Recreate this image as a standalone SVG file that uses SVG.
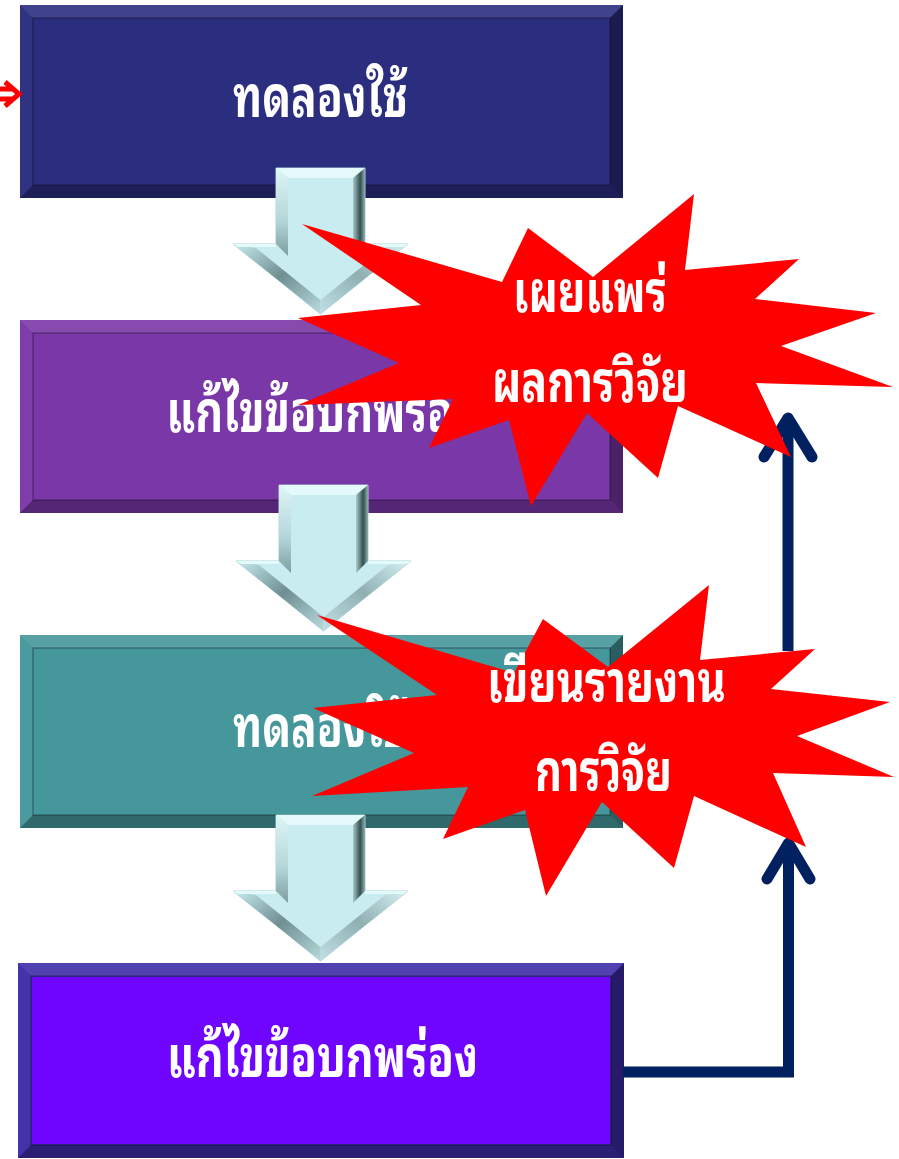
<svg xmlns="http://www.w3.org/2000/svg" width="899" height="1159" viewBox="0 0 899 1159">
<style>
.bt{fill:#FFFFFF;opacity:0.1}
.bl{fill:#FFFFFF;opacity:0.03}
.br{fill:#000000;opacity:0.38}
.bb{fill:#000000;opacity:0.3}
.il{fill:none;stroke:#000000;stroke-opacity:0.22;stroke-width:2}
.lbl{font-family:"Noto Sans Thai Looped","Noto Sans Thai","Noto Sans","DejaVu Sans",sans-serif;font-weight:bold;font-size:58px;fill:#FFFFFF;text-anchor:middle}
.conn{fill:none;stroke:#002060;stroke-width:11}
.star{fill:#FF0000}
</style>
<defs>
<linearGradient id="gL" x1="0" y1="0" x2="0" y2="1">
<stop offset="0" stop-color="#DDF5F6"/><stop offset="0.6" stop-color="#B5D6D8"/><stop offset="1" stop-color="#7C9EA1"/>
</linearGradient>
<linearGradient id="gR" x1="0" y1="0" x2="1" y2="0">
<stop offset="0" stop-color="#A9C9CC"/><stop offset="0.6" stop-color="#34504F"/><stop offset="1" stop-color="#8FB0B3"/>
</linearGradient>
<linearGradient id="gHL" x1="0" y1="0" x2="1" y2="1">
<stop offset="0" stop-color="#C8ECEF"/><stop offset="0.5" stop-color="#6F8F92"/><stop offset="1" stop-color="#B8DADD"/>
</linearGradient>
<linearGradient id="gHR" x1="1" y1="0" x2="0" y2="1">
<stop offset="0" stop-color="#D5F1F3"/><stop offset="0.5" stop-color="#8FAFB2"/><stop offset="1" stop-color="#C0E0E3"/>
</linearGradient>
<g id="darrow">
<polygon points="0,0 89,0 89,76 132,76 44.5,146 -43,76 0,76" fill="#C8ECEF" stroke="#A9D2D6" stroke-width="1"/>
<polygon points="0,0 89,0 77,10 12,10" fill="#E4F9FA"/>
<polygon points="0,0 12,10 12,88 0,76" fill="url(#gL)"/>
<polygon points="89,0 89,76 77,88 77,10" fill="url(#gR)"/>
<polygon points="-43,76 -20,80 44.5,132 44.5,146" fill="url(#gHL)"/>
<polygon points="132,76 109,80 44.5,132 44.5,146" fill="url(#gHR)"/>
<polygon points="-43,76 0,76 0,79 -38,79" fill="#E4F9FA"/>
<polygon points="89,76 132,76 127,79 89,79" fill="#E4F9FA"/>
</g>
</defs>
<rect width="899" height="1159" fill="#FFFFFF"/>

<g id="node1">
<rect x="20" y="5" width="603" height="193" fill="#2B2D7E"/>
<polygon class="bt" points="20,5 623,5 610,18 33,18"/>
<polygon class="bl" points="20,5 33,18 33,185 20,198"/>
<polygon class="br" points="623,5 623,198 610,185 610,18"/>
<polygon class="bb" points="20,198 623,198 610,185 33,185"/>
<rect class="il" x="33" y="18" width="577" height="167"/>
<rect x="34" y="19" width="575" height="165" fill="#2B2D7E"/>
<text class="lbl" x="320.5" y="117" textLength="175" lengthAdjust="spacingAndGlyphs">ทดลองใช้</text>
</g>

<g id="node2">
<rect x="20" y="320" width="603" height="193" fill="#7A37A8"/>
<polygon class="bt" points="20,320 623,320 610,333 33,333"/>
<polygon class="bl" points="20,320 33,333 33,500 20,513"/>
<polygon class="br" points="623,320 623,513 610,500 610,333"/>
<polygon class="bb" points="20,513 623,513 610,500 33,500"/>
<rect class="il" x="33" y="333" width="577" height="167"/>
<rect x="34" y="334" width="575" height="165" fill="#7A37A8"/>
<text class="lbl" x="322" y="432" textLength="311" lengthAdjust="spacingAndGlyphs">แก้ไขข้อบกพร่อง</text>
</g>

<g id="node3">
<rect x="20" y="635" width="603" height="193" fill="#45979B"/>
<polygon class="bt" points="20,635 623,635 610,648 33,648"/>
<polygon class="bl" points="20,635 33,648 33,815 20,828"/>
<polygon class="br" points="623,635 623,828 610,815 610,648"/>
<polygon class="bb" points="20,828 623,828 610,815 33,815"/>
<rect class="il" x="33" y="648" width="577" height="167"/>
<rect x="34" y="649" width="575" height="165" fill="#45979B"/>
<text class="lbl" x="320.5" y="747" textLength="175" lengthAdjust="spacingAndGlyphs">ทดลองใช้</text>
</g>

<g id="node4">
<rect x="18" y="963" width="606" height="195" fill="#3D2CA8"/>
<polygon class="bt" points="18,963 624,963 611,976 31,976"/>
<polygon class="bl" points="18,963 31,976 31,1145 18,1158"/>
<polygon class="br" points="624,963 624,1158 611,1145 611,976"/>
<polygon class="bb" points="18,1158 624,1158 611,1145 31,1145"/>
<rect class="il" x="31" y="976" width="580" height="169"/>
<rect x="32" y="977" width="578" height="167" fill="#6F05FF"/>
<text class="lbl" x="322.5" y="1077" textLength="311" lengthAdjust="spacingAndGlyphs">แก้ไขข้อบกพร่อง</text>
</g>

<g id="arrows">
<use href="#darrow" transform="translate(276,168)"/>
<use href="#darrow" transform="translate(279,485)"/>
<use href="#darrow" transform="translate(276,815)"/>
</g>

<g id="connectors">
<path d="M0,89 H13 M0,99 H13 M5,82 L19,94 L5,106" fill="none" stroke="#FF0000" stroke-width="5"/>
<path class="conn" d="M623,1072 H794"/>
<path class="conn" d="M788.5,1077 V846"/>
<path class="conn" d="M767,879 L788.5,843 L810,879" stroke-linecap="round" stroke-linejoin="round"/>
<path class="conn" d="M788,651 V424"/>
<path class="conn" d="M764,457 L788,418 L812,457" stroke-linecap="round" stroke-linejoin="round"/>
</g>

<g id="burst1">
<polygon class="star" points="694,194 685,270 799,259 755,299 876,313 781,346 893,387 756,383 791,457 678,406 658,478 587,413 531,506 509,420 429,448 453,399 298,405 399,363 298,318 421,305 302,224 502,282 528,228 593,277"/>
<text class="lbl" x="590" y="312" textLength="154" lengthAdjust="spacingAndGlyphs">เผยแพร่</text>
<text class="lbl" x="590" y="402" textLength="196" lengthAdjust="spacingAndGlyphs">ผลการวิจัย</text>
</g>

<g id="burst2">
<polygon class="star" points="709,585 700,660 815,649 771,689 890,702 797,736 894,777 773,773 806,847 694,796 674,868 602,802 546,896 525,810 443,839 468,787 312,796 414,753 313,708 437,695 317,615 514,673 543,619 608,667"/>
<text class="lbl" x="606.5" y="702" textLength="239" lengthAdjust="spacingAndGlyphs">เขียนรายงาน</text>
<text class="lbl" x="603.5" y="791" textLength="137" lengthAdjust="spacingAndGlyphs">การวิจัย</text>
</g>
</svg>
